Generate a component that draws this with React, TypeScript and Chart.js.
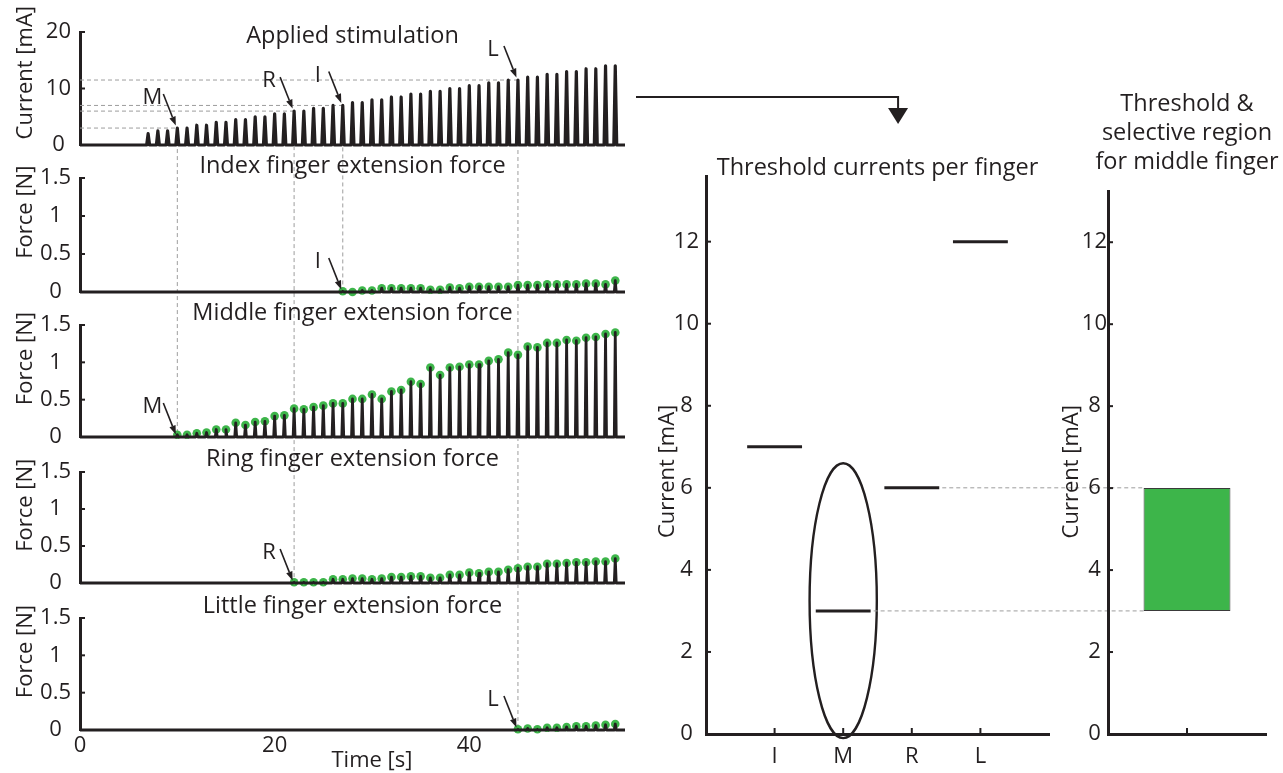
import React, { useEffect, useRef } from "react";
import { Chart, registerables } from "chart.js";

Chart.register(...registerables);

const W = 1283;
const H = 773;
const FONT = '"Open Sans", "Noto Sans", "DejaVu Sans", sans-serif';
const INK = "#231f20";
const GREEN = "#3db54a";
const GUIDE = "#9d9d9d";

// ---------------- data ----------------
const PULSE_TIMES = [7, 8, 9, 10, 11, 12, 13, 14, 15, 16, 17, 18, 19, 20, 21, 22, 23, 24, 25, 26, 27, 28, 29, 30, 31, 32, 33, 34, 35, 36, 37, 38, 39, 40, 41, 42, 43, 44, 45, 46, 47, 48, 49, 50, 51, 52, 53, 54, 55];
const STIM_CURRENT = [2.0, 2.5, 2.5, 3.0, 3.0, 3.5, 3.5, 4.0, 4.0, 4.5, 4.5, 5.0, 5.0, 5.5, 5.5, 6.0, 6.0, 6.5, 6.5, 7.0, 7.0, 7.5, 7.5, 8.0, 8.0, 8.5, 8.5, 9.0, 9.0, 9.5, 9.5, 10.0, 10.0, 10.5, 10.5, 11.0, 11.0, 11.5, 11.5, 12.0, 12.0, 12.5, 12.5, 13.0, 13.0, 13.5, 13.5, 14.0, 14.0];

const FINGERS = ["I", "M", "R", "L"];
const PANEL_TITLES = [
  "Applied stimulation",
  "Index finger extension force",
  "Middle finger extension force",
  "Ring finger extension force",
  "Little finger extension force",
];
// pulse number (index into PULSE_TIMES) at which each finger starts to respond
const ONSET_PULSE = [20, 3, 15, 38];

const INDEX_FORCE = [0.01, 0.0, 0.02, 0.02, 0.05, 0.05, 0.05, 0.05, 0.05, 0.03, 0.03, 0.06, 0.05, 0.07, 0.07, 0.07, 0.07, 0.07, 0.09, 0.09, 0.09, 0.1, 0.1, 0.1, 0.1, 0.11, 0.11, 0.1, 0.15];
const MIDDLE_FORCE = [0.03, 0.03, 0.05, 0.06, 0.1, 0.1, 0.19, 0.16, 0.2, 0.21, 0.28, 0.29, 0.38, 0.37, 0.4, 0.42, 0.45, 0.45, 0.51, 0.51, 0.57, 0.51, 0.61, 0.63, 0.74, 0.71, 0.93, 0.83, 0.93, 0.94, 0.97, 0.97, 1.02, 1.04, 1.13, 1.1, 1.21, 1.2, 1.26, 1.26, 1.3, 1.29, 1.33, 1.34, 1.38, 1.4];
const RING_FORCE = [0.01, 0.01, 0.01, 0.01, 0.05, 0.05, 0.06, 0.06, 0.05, 0.06, 0.08, 0.08, 0.09, 0.09, 0.07, 0.07, 0.11, 0.11, 0.14, 0.13, 0.15, 0.15, 0.18, 0.2, 0.22, 0.22, 0.26, 0.26, 0.27, 0.28, 0.28, 0.29, 0.29, 0.33];
const LITTLE_FORCE = [0.01, 0.02, 0.01, 0.03, 0.03, 0.04, 0.05, 0.05, 0.06, 0.07, 0.08];
const FORCE_SERIES = [INDEX_FORCE, MIDDLE_FORCE, RING_FORCE, LITTLE_FORCE];

const THRESHOLD_CURRENT = [7, 3, 6, 12];
const SELECTED_FINGER = 1; // middle finger
const ELLIPSE_RANGE = [-0.1, 6.6];

const TIME_TICKS = [0, 20, 40];
const CURRENT_TICKS = [0, 10, 20];
const FORCE_TICKS = [0, 0.5, 1, 1.5];
const THRESHOLD_TICKS = [0, 2, 4, 6, 8, 10, 12];
const RIGHT_TITLE = ["Threshold &", "selective region", "for middle finger"];

// ---------------- layout ----------------
const X_MAX = 56;
const LEFT_AREA_LEFT = 80;
const LEFT_AREA_RIGHT = 625;
const PANEL_TOP = [32, 178, 325, 472, 618];
const PANEL_BOTTOM = [145, 292, 437, 583, 730];
const TITLE_OFFSET = [11, -5, -5, -6, -5];
const Y_TITLE_AT = [12.8, 1.05, 1.05, 1.05, 1.05];
const LEFT_Y_W = 60;
const BOTTOM_X_H = 43;
const TICK_SIZE = 22;
const TITLE_SIZE = 23.5;
const CONNECTOR_LEVEL = 8.5;
const CONNECTOR_TARGET = 2.8;

const MID_LEFT = 706;
const MID_RIGHT = 1049;
const MID_TOP = 176;
const MID_MAX = 13.6;
const RIGHT_LEFT = 1108;
const RIGHT_RIGHT = 1266;
const RIGHT_TOP = 191;
const RIGHT_MAX = 13.25;
const AX_BOTTOM = 734;
const THRESH_HALF = 0.4;
const ELLIPSE_HALF = 0.49;

// ---------------- helpers ----------------
function txt(ctx: CanvasRenderingContext2D, s: string, x: number, y: number, size: number, align: CanvasTextAlign = "center", baseline: CanvasTextBaseline = "middle", rot = 0) {
  ctx.save();
  ctx.font = `${size}px ${FONT}`;
  ctx.fillStyle = INK;
  ctx.textAlign = align;
  ctx.textBaseline = baseline;
  ctx.translate(x, y);
  if (rot) ctx.rotate(rot);
  ctx.fillText(s, 0, 0);
  ctx.restore();
}

function arrow(ctx: CanvasRenderingContext2D, x0: number, y0: number, x1: number, y1: number) {
  const ang = Math.atan2(y1 - y0, x1 - x0);
  const hl = 9;
  const hw = 3.3;
  const bx = x1 - hl * Math.cos(ang);
  const by = y1 - hl * Math.sin(ang);
  ctx.save();
  ctx.strokeStyle = INK;
  ctx.fillStyle = INK;
  ctx.lineWidth = 1.6;
  ctx.beginPath();
  ctx.moveTo(x0, y0);
  ctx.lineTo(bx, by);
  ctx.stroke();
  ctx.beginPath();
  ctx.moveTo(x1, y1);
  ctx.lineTo(bx + hw * Math.sin(ang), by - hw * Math.cos(ang));
  ctx.lineTo(bx - hw * Math.sin(ang), by + hw * Math.cos(ang));
  ctx.closePath();
  ctx.fill();
  ctx.restore();
}

function pointer(ctx: CanvasRenderingContext2D, label: string, tx: number, ty: number) {
  arrow(ctx, tx - 14, ty - 34, tx - 1.5, ty - 2.5);
  txt(ctx, label, tx - 25, ty - 30, TICK_SIZE);
}

function yTicksInward(chart: any, len = 5) {
  const { ctx, chartArea } = chart;
  const ys = chart.scales.y;
  ctx.save();
  ctx.strokeStyle = INK;
  ctx.lineWidth = 2;
  ys.ticks.forEach((t: any) => {
    const y = ys.getPixelForValue(t.value);
    ctx.beginPath();
    ctx.moveTo(chartArea.left, y);
    ctx.lineTo(chartArea.left + len, y);
    ctx.stroke();
  });
  ctx.restore();
}

function pulseTrace(times: number[], values: number[], half: number) {
  const pts: { x: number; y: number }[] = [{ x: 0, y: 0 }];
  times.forEach((t, i) => {
    pts.push({ x: t - half, y: 0 }, { x: t, y: values[i] }, { x: t + half, y: 0 });
  });
  pts.push({ x: X_MAX, y: 0 });
  return pts;
}

function yScale(min: number, max: number, ticks: number[], width: number, padding: number) {
  return {
    type: "linear",
    min,
    max,
    afterFit: (s: any) => {
      s.width = width;
    },
    afterBuildTicks: (s: any) => {
      s.ticks = ticks.map((v) => ({ value: v }));
    },
    ticks: {
      font: { family: FONT, size: TICK_SIZE },
      color: INK,
      padding,
      crossAlign: "center",
      autoSkip: false,
      callback: (v: any) => String(v),
    },
    grid: { display: false, drawTicks: false },
    border: { display: true, width: 3, color: INK },
  };
}

// ---------------- left panels ----------------
function leftConfig(i: number, reg: any): any {
  const isStim = i === 0;
  const isBottom = i === 4;
  const fi = i - 1;
  const datasets: any[] = [];
  const traceStyle = {
    borderColor: INK,
    borderWidth: isStim ? 3.2 : 2.8,
    pointRadius: 0,
    tension: 0,
    borderJoinStyle: "round",
    clip: 4,
  };
  if (isStim) {
    datasets.push({ ...traceStyle, data: pulseTrace(PULSE_TIMES, STIM_CURRENT, 0.15) });
  } else {
    const times = PULSE_TIMES.slice(ONSET_PULSE[fi]);
    const values = FORCE_SERIES[fi];
    const pts = times.map((t, j) => ({ x: t, y: values[j] }));
    datasets.push({ ...traceStyle, data: pulseTrace(times, values, 0.1) });
    datasets.push({ data: pts, showLine: false, pointRadius: 4.3, pointBackgroundColor: GREEN, pointBorderWidth: 0, clip: false });
    datasets.push({ data: pts, showLine: false, pointRadius: 1.1, pointBackgroundColor: INK, pointBorderWidth: 0, clip: false });
  }

  const plugin = {
    id: "leftPanel" + i,
    beforeDatasetsDraw(chart: any) {
      if (!isStim) return;
      const { ctx, chartArea } = chart;
      const xs = chart.scales.x;
      const ys = chart.scales.y;
      ctx.save();
      ctx.strokeStyle = GUIDE;
      ctx.lineWidth = 1;
      ctx.setLineDash([4, 3]);
      FINGERS.forEach((_, f) => {
        const k = ONSET_PULSE[f];
        const px = xs.getPixelForValue(PULSE_TIMES[k]);
        const py = ys.getPixelForValue(STIM_CURRENT[k]);
        const target = reg.left[f + 1];
        const by = target ? target.scales.y.getPixelForValue(0) : py;
        ctx.beginPath();
        ctx.moveTo(chartArea.left, py);
        ctx.lineTo(px, py);
        ctx.stroke();
        ctx.beginPath();
        ctx.moveTo(px, py);
        ctx.lineTo(px, by);
        ctx.stroke();
      });
      ctx.restore();
    },
    afterDatasetsDraw(chart: any) {
      const { ctx, chartArea } = chart;
      const xs = chart.scales.x;
      const ys = chart.scales.y;
      yTicksInward(chart);
      txt(ctx, PANEL_TITLES[i], (chartArea.left + chartArea.right) / 2, chartArea.top + TITLE_OFFSET[i], TITLE_SIZE, "center", "alphabetic");
      txt(ctx, isStim ? "Current [mA]" : "Force [N]", 26, ys.getPixelForValue(Y_TITLE_AT[i]), TICK_SIZE, "center", "middle", -Math.PI / 2);
      if (isStim) {
        FINGERS.forEach((f, fIdx) => {
          const k = ONSET_PULSE[fIdx];
          pointer(ctx, f, xs.getPixelForValue(PULSE_TIMES[k]), ys.getPixelForValue(STIM_CURRENT[k]));
        });
        // connector arrow to the threshold chart
        const m = reg.middle;
        if (m) {
          const y = ys.getPixelForValue(CONNECTOR_LEVEL);
          const x0 = chartArea.right + 11;
          const x1 = m.scales.x.getPixelForValue(CONNECTOR_TARGET);
          const tipY = m.chartArea.top - 52;
          ctx.save();
          ctx.strokeStyle = INK;
          ctx.fillStyle = INK;
          ctx.lineWidth = 2;
          ctx.beginPath();
          ctx.moveTo(x0, y);
          ctx.lineTo(x1, y);
          ctx.lineTo(x1, tipY - 14);
          ctx.stroke();
          ctx.beginPath();
          ctx.moveTo(x1 - 10, tipY - 16);
          ctx.lineTo(x1 + 10, tipY - 16);
          ctx.lineTo(x1, tipY);
          ctx.closePath();
          ctx.fill();
          ctx.restore();
        }
      } else {
        const k = ONSET_PULSE[fi];
        pointer(ctx, FINGERS[fi], xs.getPixelForValue(PULSE_TIMES[k]), ys.getPixelForValue(0));
      }
      if (isBottom) {
        txt(ctx, "Time [s]", xs.getPixelForValue(30), chartArea.bottom + 31, TICK_SIZE);
      }
    },
  };

  return {
    type: "line",
    data: { datasets },
    plugins: [plugin],
    options: {
      responsive: false,
      animation: false,
      devicePixelRatio: 1,
      events: [],
      layout: {
        padding: {
          left: LEFT_AREA_LEFT - LEFT_Y_W,
          right: W - LEFT_AREA_RIGHT,
          top: PANEL_TOP[i],
          bottom: isBottom ? H - PANEL_BOTTOM[i] - BOTTOM_X_H : H - PANEL_BOTTOM[i],
        },
      },
      plugins: { legend: { display: false }, tooltip: { enabled: false } },
      scales: {
        x: {
          type: "linear",
          min: 0,
          max: X_MAX,
          display: isBottom,
          afterFit: (s: any) => {
            s.height = isBottom ? BOTTOM_X_H : 0;
          },
          afterBuildTicks: (s: any) => {
            s.ticks = TIME_TICKS.map((v) => ({ value: v }));
          },
          ticks: { font: { family: FONT, size: TICK_SIZE }, color: INK, padding: 3, maxRotation: 0, autoSkip: false },
          grid: { display: false, drawTicks: false },
          border: { display: false },
        },
        y: isStim ? yScale(0, 20, CURRENT_TICKS, LEFT_Y_W, 9) : yScale(0, 1.5, FORCE_TICKS, LEFT_Y_W, 9),
      },
    },
  };
}

// ---------------- threshold chart ----------------
function middleConfig(reg: any): any {
  const datasets = THRESHOLD_CURRENT.map((v, i) => ({
    data: [
      { x: i + 1 - THRESH_HALF, y: v },
      { x: i + 1 + THRESH_HALF, y: v },
    ],
    borderColor: INK,
    borderWidth: 3,
    pointRadius: 0,
    borderCapStyle: "butt",
  }));
  const plugin = {
    id: "middleDecor",
    afterDatasetsDraw(chart: any) {
      const { ctx, chartArea } = chart;
      const xs = chart.scales.x;
      const ys = chart.scales.y;
      // ellipse around the selected finger
      const cx = xs.getPixelForValue(SELECTED_FINGER + 1);
      const yTop = ys.getPixelForValue(ELLIPSE_RANGE[1]);
      const yBot = ys.getPixelForValue(ELLIPSE_RANGE[0]);
      const rx = xs.getPixelForValue(SELECTED_FINGER + 1 + ELLIPSE_HALF) - cx;
      ctx.save();
      ctx.strokeStyle = INK;
      ctx.lineWidth = 2.4;
      ctx.beginPath();
      ctx.ellipse(cx, (yTop + yBot) / 2, rx, (yBot - yTop) / 2, 0, 0, Math.PI * 2);
      ctx.stroke();
      // inward x ticks
      ctx.lineWidth = 2;
      FINGERS.forEach((_, i) => {
        const x = xs.getPixelForValue(i + 1);
        ctx.beginPath();
        ctx.moveTo(x, chartArea.bottom);
        ctx.lineTo(x, chartArea.bottom - 6);
        ctx.stroke();
      });
      ctx.restore();
      yTicksInward(chart);
      txt(ctx, "Threshold currents per finger", (chartArea.left + chartArea.right) / 2, chartArea.top - 1, TITLE_SIZE, "center", "alphabetic");
      txt(ctx, "Current [mA]", 668, ys.getPixelForValue(6.4), TICK_SIZE, "center", "middle", -Math.PI / 2);
      // guides to selective region
      const r = reg.right;
      if (r) {
        const bar = r.getDatasetMeta(0).data[0];
        const p = bar.getProps(["x", "width"], true);
        const barLeft = p.x - p.width / 2;
        const others = THRESHOLD_CURRENT.map((v, i) => ({ v, i })).filter((o) => o.i !== SELECTED_FINGER);
        const upper = others.reduce((a, b) => (b.v < a.v ? b : a));
        const guides = [
          { i: upper.i, v: upper.v },
          { i: SELECTED_FINGER, v: THRESHOLD_CURRENT[SELECTED_FINGER] },
        ];
        ctx.save();
        ctx.strokeStyle = GUIDE;
        ctx.lineWidth = 1;
        ctx.setLineDash([4, 3]);
        guides.forEach((g) => {
          const y = ys.getPixelForValue(g.v);
          ctx.beginPath();
          ctx.moveTo(xs.getPixelForValue(g.i + 1 + THRESH_HALF) + 3, y);
          ctx.lineTo(barLeft, y);
          ctx.stroke();
        });
        ctx.restore();
      }
    },
  };
  return {
    type: "line",
    data: { datasets },
    plugins: [plugin],
    options: {
      responsive: false,
      animation: false,
      devicePixelRatio: 1,
      events: [],
      layout: { padding: { left: MID_LEFT - 56, right: W - MID_RIGHT, top: MID_TOP, bottom: 0 } },
      plugins: { legend: { display: false }, tooltip: { enabled: false } },
      scales: {
        x: {
          type: "linear",
          min: 0,
          max: FINGERS.length + 1,
          afterFit: (s: any) => {
            s.height = H - AX_BOTTOM;
          },
          afterBuildTicks: (s: any) => {
            s.ticks = FINGERS.map((_, i) => ({ value: i + 1 }));
          },
          ticks: {
            font: { family: FONT, size: TICK_SIZE },
            color: INK,
            padding: 10,
            maxRotation: 0,
            autoSkip: false,
            callback: (_v: any, idx: number) => FINGERS[idx],
          },
          grid: { display: false, drawTicks: false },
          border: { display: true, width: 3, color: INK },
        },
        y: yScale(0, MID_MAX, THRESHOLD_TICKS, 56, 7),
      },
    },
  };
}

// ---------------- selective region chart ----------------
function rightConfig(): any {
  const low = THRESHOLD_CURRENT[SELECTED_FINGER];
  const high = Math.min(...THRESHOLD_CURRENT.filter((_, i) => i !== SELECTED_FINGER));
  const plugin = {
    id: "rightDecor",
    afterDatasetsDraw(chart: any) {
      const { ctx, chartArea } = chart;
      const xs = chart.scales.x;
      const ys = chart.scales.y;
      yTicksInward(chart);
      ctx.save();
      ctx.strokeStyle = INK;
      ctx.lineWidth = 2;
      const x = xs.getPixelForValue(0);
      ctx.beginPath();
      ctx.moveTo(x, chartArea.bottom);
      ctx.lineTo(x, chartArea.bottom - 6);
      ctx.stroke();
      ctx.restore();
      const cx = (chartArea.left + chartArea.right) / 2;
      RIGHT_TITLE.forEach((s, k) => {
        txt(ctx, s, cx, chartArea.top - 87 + k * 29, TITLE_SIZE);
      });
      txt(ctx, "Current [mA]", 1072, ys.getPixelForValue(6.4), TICK_SIZE, "center", "middle", -Math.PI / 2);
    },
  };
  return {
    type: "bar",
    data: {
      labels: [""],
      datasets: [
        {
          data: [[low, high]],
          backgroundColor: GREEN,
          borderColor: "#3a3a3a",
          borderWidth: 1,
          borderSkipped: false,
          barPercentage: 0.55,
          categoryPercentage: 1,
        },
      ],
    },
    plugins: [plugin],
    options: {
      responsive: false,
      animation: false,
      devicePixelRatio: 1,
      events: [],
      layout: { padding: { left: RIGHT_LEFT - 50, right: W - RIGHT_RIGHT, top: RIGHT_TOP, bottom: 0 } },
      plugins: { legend: { display: false }, tooltip: { enabled: false } },
      scales: {
        x: {
          type: "category",
          afterFit: (s: any) => {
            s.height = H - AX_BOTTOM;
          },
          ticks: { display: false },
          grid: { display: false, drawTicks: false },
          border: { display: true, width: 3, color: INK },
        },
        y: yScale(0, RIGHT_MAX, THRESHOLD_TICKS, 50, 1),
      },
    },
  };
}

export default function App() {
  const canvases = useRef<Array<HTMLCanvasElement | null>>([]);

  useEffect(() => {
    Chart.defaults.font.family = FONT;
    Chart.defaults.color = INK;
    const reg: any = { left: [], middle: null, right: null };
    const c = canvases.current;
    reg.right = new Chart(c[6] as HTMLCanvasElement, rightConfig());
    reg.middle = new Chart(c[5] as HTMLCanvasElement, middleConfig(reg));
    for (let i = 4; i >= 0; i--) {
      reg.left[i] = new Chart(c[i] as HTMLCanvasElement, leftConfig(i, reg));
    }
    return () => {
      reg.left.forEach((ch: any) => ch && ch.destroy());
      reg.middle && reg.middle.destroy();
      reg.right && reg.right.destroy();
    };
  }, []);

  return (
    <div style={{ position: "fixed", left: 0, top: 0, width: W, height: H, background: "#ffffff", overflow: "hidden" }}>
      {Array.from({ length: 7 }).map((_, i) => (
        <canvas
          key={i}
          ref={(el) => {
            canvases.current[i] = el;
          }}
          width={W}
          height={H}
          style={{ position: "absolute", left: 0, top: 0, width: W, height: H }}
        />
      ))}
    </div>
  );
}
